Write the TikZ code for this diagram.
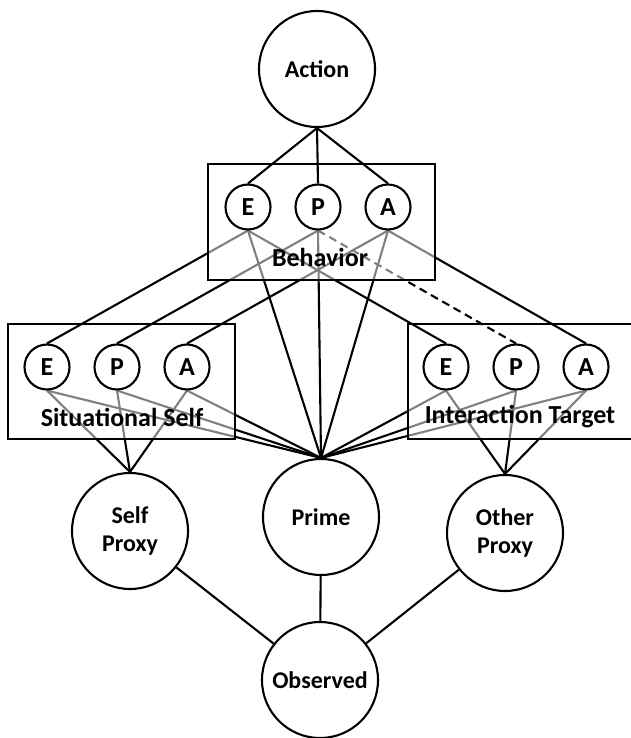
\documentclass[tikz,border=0pt]{standalone}
\usepackage{fontspec}
\setsansfont{Carlito}
\usetikzlibrary{positioning}
\pgfdeclarelayer{lowedges}
\pgfdeclarelayer{lowfade}
\pgfdeclarelayer{topedges}
\pgfdeclarelayer{topfade}
\pgfsetlayers{lowedges,lowfade,topedges,topfade,main}
\tikzset{
    bignode/.style={
    circle,draw=black,fill=white,line width=2.1pt,minimum size=116pt,inner sep=0pt,
    font=\sffamily\bfseries\fontsize{24}{28}\selectfont,align=center
    },
    epanode/.style={
    circle,draw=black,fill=white,line width=2.1pt,minimum size=45pt,inner sep=0pt,
    font=\sffamily\bfseries\fontsize{26}{28}\selectfont
    },
    group/.style={
    rectangle,draw=black,line width=2.1pt,inner sep=0pt
    },
    grouplabel/.style={
    font=\sffamily\bfseries\fontsize{26}{28}\selectfont,inner sep=0pt
    },
    link/.style={
    draw=black,line width=2.1pt
    },
    fade/.style={
    fill=white,fill opacity=0.5
    },
}
\begin{document}
\begin{tikzpicture}[x=1pt, y=-1pt, node distance=70pt, on grid]
   \useasboundingbox (0,0) rectangle (630,738);
   \node[bignode] (action) at (317,69) {Action};

   % behavior
   \node[group,minimum width=227pt,minimum height=116pt] (behbox) at (321.5,222) {};
   \node[epanode] (bE) at (248,207) {E};
   \node[epanode,right=of bE] (bP) {P};
   \node[epanode,right=of bP] (bA) {A};
   \node[grouplabel] (behlabel) at (320,257) {Behavior};

   % situational self
   \node[group,minimum width=227pt,minimum height=115pt] (selfbox) at (121.5,381.5) {};
   \node[epanode] (sE) at (47,367) {E};
   \node[epanode,right=of sE] (sP) {P};
   \node[epanode,right=of sP] (sA) {A};
   \node[grouplabel] (selflabel) at (122,417) {Situational Self};

   % interaction target
   \node[group,minimum width=232pt,minimum height=115pt] (tgtbox) at (524,381.5) {};
   \node[epanode] (tE) at (446,367) {E};
   \node[epanode,right=of tE] (tP) {P};
   \node[epanode,right=of tP] (tA) {A};
   \node[grouplabel] (tgtlabel) at (520,417) {Interaction Target};

   \node[bignode] (selfproxy) at (130,531) {Self\\Proxy};
   \node[bignode] (prime) at (321,517) {Prime};
   \node[bignode] (otherproxy) at (505,533) {Other\\Proxy};
   \node[bignode] (observed) at (320,680) {Observed};

   \begin{pgfonlayer}{lowedges}
   \path[link]
     (sE.south) edge (selfproxy.north) edge (prime.north)
     (sP.south) edge (selfproxy.north) edge (prime.north)
     (sA.south) edge (selfproxy.north) edge (prime.north)
     (tE.south) edge (otherproxy.north) edge (prime.north)
     (tP.south) edge (otherproxy.north) edge (prime.north)
     (tA.south) edge (otherproxy.north) edge (prime.north);
   \end{pgfonlayer}
   \begin{pgfonlayer}{lowfade}
   \path[fade] (selfbox.south west) rectangle (selfbox.north east);
   \path[fade] (tgtbox.south west) rectangle (tgtbox.north east);
   \end{pgfonlayer}

   \begin{pgfonlayer}{topedges}
   \path[link]
     (bE.south) edge (sE.north) edge (prime.north)
     (bP.south) edge (sP.north) edge (prime.north)
                edge[dash pattern=on 8pt off 5pt] (tP.north)
     (bA.south) edge (sA.north) edge (prime.north)
     (bE.south) edge (tE.north)
     (bA.south) edge (tA.north);
   \end{pgfonlayer}
   \begin{pgfonlayer}{topfade}
   \path[fade] (behbox.south west) rectangle (behbox.north east);
   \end{pgfonlayer}

   \path[link]
     (action.south) edge (bE.north) edge (bP.north) edge (bA.north)
     (selfproxy) edge (observed)
     (prime) edge (observed)
     (otherproxy) edge (observed);
\end{tikzpicture}
\end{document}
